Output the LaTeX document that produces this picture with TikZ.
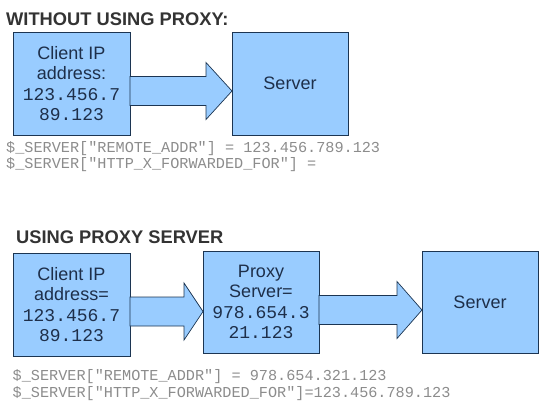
\documentclass[tikz,border=0pt]{standalone}
\usepackage{fontspec}
\setmainfont{Liberation Sans}
\setsansfont{Liberation Sans}
\setmonofont{Liberation Mono}
\usetikzlibrary{calc}
\definecolor{boxfill}{HTML}{99CCFF}
\definecolor{boxline}{HTML}{1C3552}
\definecolor{boxtext}{HTML}{1E2F4A}
\definecolor{codegray}{HTML}{8C8C8C}
\definecolor{titlegray}{HTML}{333333}
\tikzset{
  box/.style={draw=boxline, fill=boxfill, line width=0.9pt, inner sep=0pt, outer sep=0pt,
    text=boxtext, align=center, font=\fontsize{18}{20.5}\selectfont},
  arrowsty/.style={draw=boxline, fill=boxfill, line width=0.7pt, line join=miter},
  titlesty/.style={anchor=base west, inner sep=0pt, text=titlegray, font=\bfseries\fontsize{18.3}{20}\selectfont},
  codesty/.style={anchor=base west, inner sep=0pt, text=codegray, font=\ttfamily\fontsize{15.2}{17}\selectfont}
}
% #1 from node, #2 to node, #3 y offset of arrow axis from #1 centre, #4 head length
\newcommand\bkarrow[4]{%
  \draw[arrowsty] let \p1=($(#1.east)+(0,#3)$), \p2=(#2.west) in
    (\x1,\y1+14.5pt) -- (\x2-#4pt,\y1+14.5pt) -- (\x2-#4pt,\y1+28.5pt) -- (\x2,\y1)
    -- (\x2-#4pt,\y1-28.5pt) -- (\x2-#4pt,\y1-14.5pt) -- (\x1,\y1-14.5pt) -- cycle;}
\begin{document}
\begin{tikzpicture}[x=1pt,y=-1pt]
\useasboundingbox (0,0) rectangle (550,400);
% ---- top section
\node[titlesty] (t1) at (6,25) {WITHOUT USING PROXY:};
\node[box, minimum width=117pt, minimum height=103pt] (c1) at (71.5,83.5)
  {Client IP\\address:\\{\ttfamily 123.456.7}\\{\ttfamily 89.123}};
\node[box, minimum width=116pt, minimum height=103pt] (s1) at (290,83.5) {Server};
\bkarrow{c1}{s1}{7.5}{26}
\node[codesty] (l1) at (6,152) {\$\_SERVER["REMOTE\_ADDR"] = 123.456.789.123};
\node[codesty] (l2) at (6,168.5) {\$\_SERVER["HTTP\_X\_FORWARDED\_FOR"] =};
% ---- bottom section
\node[titlesty] (t2) at (16,243) {USING PROXY SERVER};
\node[box, minimum width=117pt, minimum height=103pt] (c2) at (71.5,304.5)
  {Client IP\\address=\\{\ttfamily 123.456.7}\\{\ttfamily 89.123}};
\node[box, minimum width=116pt, minimum height=102pt] (p2) at (261,302)
  {Proxy\\Server=\\{\ttfamily 978.654.3}\\{\ttfamily 21.123}};
\node[box, minimum width=116pt, minimum height=102pt] (s2) at (480,302) {Server};
\bkarrow{c2}{p2}{7}{19}
\bkarrow{p2}{s2}{8}{25}
\node[codesty] (l3) at (12.5,380) {\$\_SERVER["REMOTE\_ADDR"] = 978.654.321.123};
\node[codesty] (l4) at (12.5,397) {\$\_SERVER["HTTP\_X\_FORWARDED\_FOR"]=123.456.789.123};
\end{tikzpicture}
\end{document}
